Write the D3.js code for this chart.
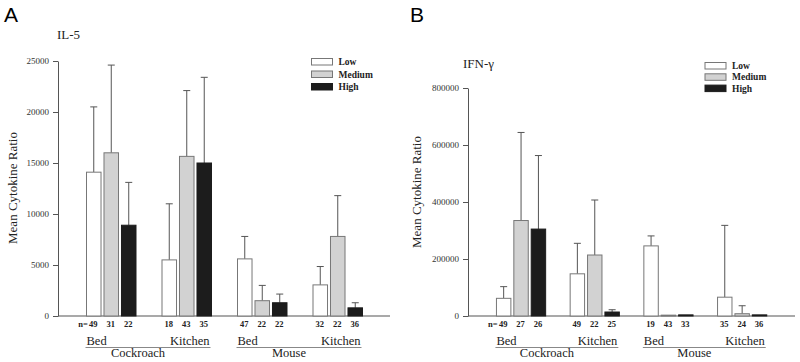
<!DOCTYPE html>
<html>
<head>
<meta charset="utf-8">
<script src="https://cdn.jsdelivr.net/npm/d3@7"></script>
<style>
  body { margin: 0; background: #fff; }
  svg { display: block; }
</style>
</head>
<body>
<script>
// categories
let levels = ['Low', 'Medium', 'High'];
let groups = ['Cockroach Bed', 'Cockroach Kitchen', 'Mouse Bed', 'Mouse Kitchen'];
let allergens = ['Cockroach', 'Mouse'];
let rooms = ['Bed', 'Kitchen'];

// IL-5 means, upper error (SD) and sample sizes, one row per group
let il5Mean = [[14100, 16000, 8900], [5500, 15650, 15000], [5600, 1500, 1300], [3050, 7800, 800]];
let il5Sd = [[6400, 8600, 4200], [5500, 6450, 8400], [2200, 1500, 850], [1800, 4000, 500]];
let il5N = [[49, 31, 22], [18, 43, 35], [47, 22, 22], [32, 22, 36]];
let il5Ticks = [0, 5000, 10000, 15000, 20000, 25000];

// IFN-gamma
let ifnMean = [[62000, 335000, 305000], [148000, 214000, 14000], [246000, 3000, 4000], [66000, 8000, 4000]];
let ifnSd = [[41000, 309000, 258000], [107000, 193000, 8000], [35000, 0, 0], [252000, 28000, 0]];
let ifnN = [[49, 27, 26], [49, 22, 25], [19, 43, 33], [35, 24, 36]];
let ifnTicks = [0, 200000, 400000, 600000, 800000];

let fills = { Low: '#ffffff', Medium: '#d2d2d2', High: '#1c1c1c' };
let strokes = { Low: '#777', Medium: '#777', High: '#1c1c1c' };
let serif = '"Liberation Serif", "Times New Roman", serif';

let svg = d3.select('body').append('svg').attr('width', 800).attr('height', 362);

// small helper so every text gets the serif face
function txt(sel, size) {
  return sel.append('text').style('font-family', serif)
    .style('font-size', size + 'px').attr('fill', '#222');
}

function drawPanel(p) {
  let g = svg.append('g');

  //y scale
  let y = d3.scaleLinear().domain([0, d3.max(p.ticks)]).range([p.bottom, p.top]);
  //group scale and level scale inside each group
  let x0 = d3.scaleBand().domain(groups).range(p.groupRange);
  let x1 = d3.scaleBand().domain(levels)
    .range([(x0.bandwidth() - p.cluster) / 2, (x0.bandwidth() + p.cluster) / 2])
    .paddingInner(0.17);

  // panel letter
  svg.append('text').attr('x', p.letterX).attr('y', 22)
    .style('font-family', '"Liberation Sans", Arial, sans-serif').style('font-size', '21px')
    .text(p.letter);

  // title
  txt(g, 13).attr('x', p.titleX).attr('y', p.titleY).text(p.title);

  // y axis
  let yAxis = d3.axisLeft(y).tickValues(p.ticks).tickSize(5).tickSizeOuter(0).tickPadding(4)
    .tickFormat(d3.format('d'));
  let ya = g.append('g').attr('transform', 'translate(' + p.left + ',0)').call(yAxis);
  ya.select('.domain').attr('stroke', '#555');
  ya.selectAll('.tick line').attr('stroke', '#555');
  ya.selectAll('.tick text').style('font-family', serif).style('font-size', '9px').attr('fill', '#333');

  txt(g, 13)
    .attr('transform', 'translate(' + p.labelX + ',' + p.labelY + ') rotate(-90)')
    .attr('text-anchor', 'middle')
    .text('Mean Cytokine Ratio');

  // x axis line
  g.append('line').attr('x1', p.left).attr('x2', p.right).attr('y1', y(0)).attr('y2', y(0))
    .attr('stroke', '#555').attr('stroke-width', 1.2);

  let data = [];
  groups.forEach(function (grp, i) {
    levels.forEach(function (lv, j) {
      data.push({ group: grp, level: lv, mean: p.mean[i][j], sd: p.sd[i][j], n: p.n[i][j] });
    });
  });

  let bx = function (d) { return x0(d.group) + x1(d.level); };
  let cx = function (d) { return bx(d) + x1.bandwidth() / 2; };

  // error bars (upper only)
  let eb = data.filter(function (d) { return d.sd > 0; });
  g.selectAll('.err').data(eb).enter().append('line')
    .attr('x1', cx).attr('x2', cx)
    .attr('y1', function (d) { return y(d.mean); })
    .attr('y2', function (d) { return y(d.mean + d.sd); })
    .attr('stroke', '#555');
  g.selectAll('.cap').data(eb).enter().append('line')
    .attr('x1', function (d) { return cx(d) - 3.5; }).attr('x2', function (d) { return cx(d) + 3.5; })
    .attr('y1', function (d) { return y(d.mean + d.sd); })
    .attr('y2', function (d) { return y(d.mean + d.sd); })
    .attr('stroke', '#555');

  // bars
  g.selectAll('.bar').data(data).enter().append('rect')
    .attr('x', bx).attr('width', x1.bandwidth())
    .attr('y', function (d) { return y(d.mean); })
    .attr('height', function (d) { return Math.max(0.8, y(0) - y(d.mean)); })
    .attr('fill', function (d) { return fills[d.level]; })
    .attr('stroke', function (d) { return strokes[d.level]; })
    .attr('stroke-width', 1);

  // n labels
  data.forEach(function (d) {
    txt(g, 8.5).attr('x', cx(d) - 0.5).attr('y', y(0) + 11)
      .attr('text-anchor', 'middle').style('font-weight', 'bold').text(d.n);
  });
  txt(g, 8.5).attr('x', cx(data[0]) - 6).attr('y', y(0) + 11)
    .attr('text-anchor', 'end').style('font-weight', 'bold').text('n=');

  // category labels
  allergens.forEach(function (a) {
    let first = x0(a + ' ' + rooms[0]) + x1(levels[0]);
    let last = x0(a + ' ' + rooms[1]) + x1(levels[2]) + x1.bandwidth();
    txt(g, 12.5).attr('x', first).attr('y', y(0) + 29).text(rooms[0]);
    txt(g, 12.5).attr('x', last - 2).attr('y', y(0) + 29)
      .attr('text-anchor', 'end').text(rooms[1]);
    g.append('line').attr('x1', first - 1).attr('x2', last - 1)
      .attr('y1', y(0) + 31.5).attr('y2', y(0) + 31.5).attr('stroke', '#888');
    txt(g, 12.5).attr('x', (first + last) / 2 - 11).attr('y', y(0) + 41)
      .attr('text-anchor', 'middle').text(a);
  });

  // legend
  let lg = g.append('g').attr('transform', 'translate(' + p.legendX + ',' + p.legendY + ')');
  levels.forEach(function (lv, i) {
    lg.append('rect').attr('x', 0).attr('y', i * p.legendStep).attr('width', 21).attr('height', 6.5)
      .attr('fill', fills[lv]).attr('stroke', strokes[lv]);
    txt(lg, 9.5).attr('x', 27).attr('y', i * p.legendStep + 6.5)
      .style('font-weight', 'bold').text(lv);
  });
}

drawPanel({
  letter: 'A', letterX: 4, title: 'IL-5', titleX: 57, titleY: 39,
  mean: il5Mean, sd: il5Sd, n: il5N, ticks: il5Ticks,
  left: 58, right: 390, top: 61, bottom: 316,
  groupRange: [73.5, 375.5], cluster: 49.5,
  labelX: 17, labelY: 188,
  legendX: 311.5, legendY: 58.5, legendStep: 12.5
});

drawPanel({
  letter: 'B', letterX: 410, title: 'IFN-\u03b3', titleX: 463, titleY: 68,
  mean: ifnMean, sd: ifnSd, n: ifnN, ticks: ifnTicks,
  left: 468, right: 795, top: 88, bottom: 316,
  groupRange: [484.2, 779], cluster: 49.2,
  labelX: 421, labelY: 192,
  legendX: 705, legendY: 62.5, legendStep: 11.3
});
</script>
</body>
</html>
